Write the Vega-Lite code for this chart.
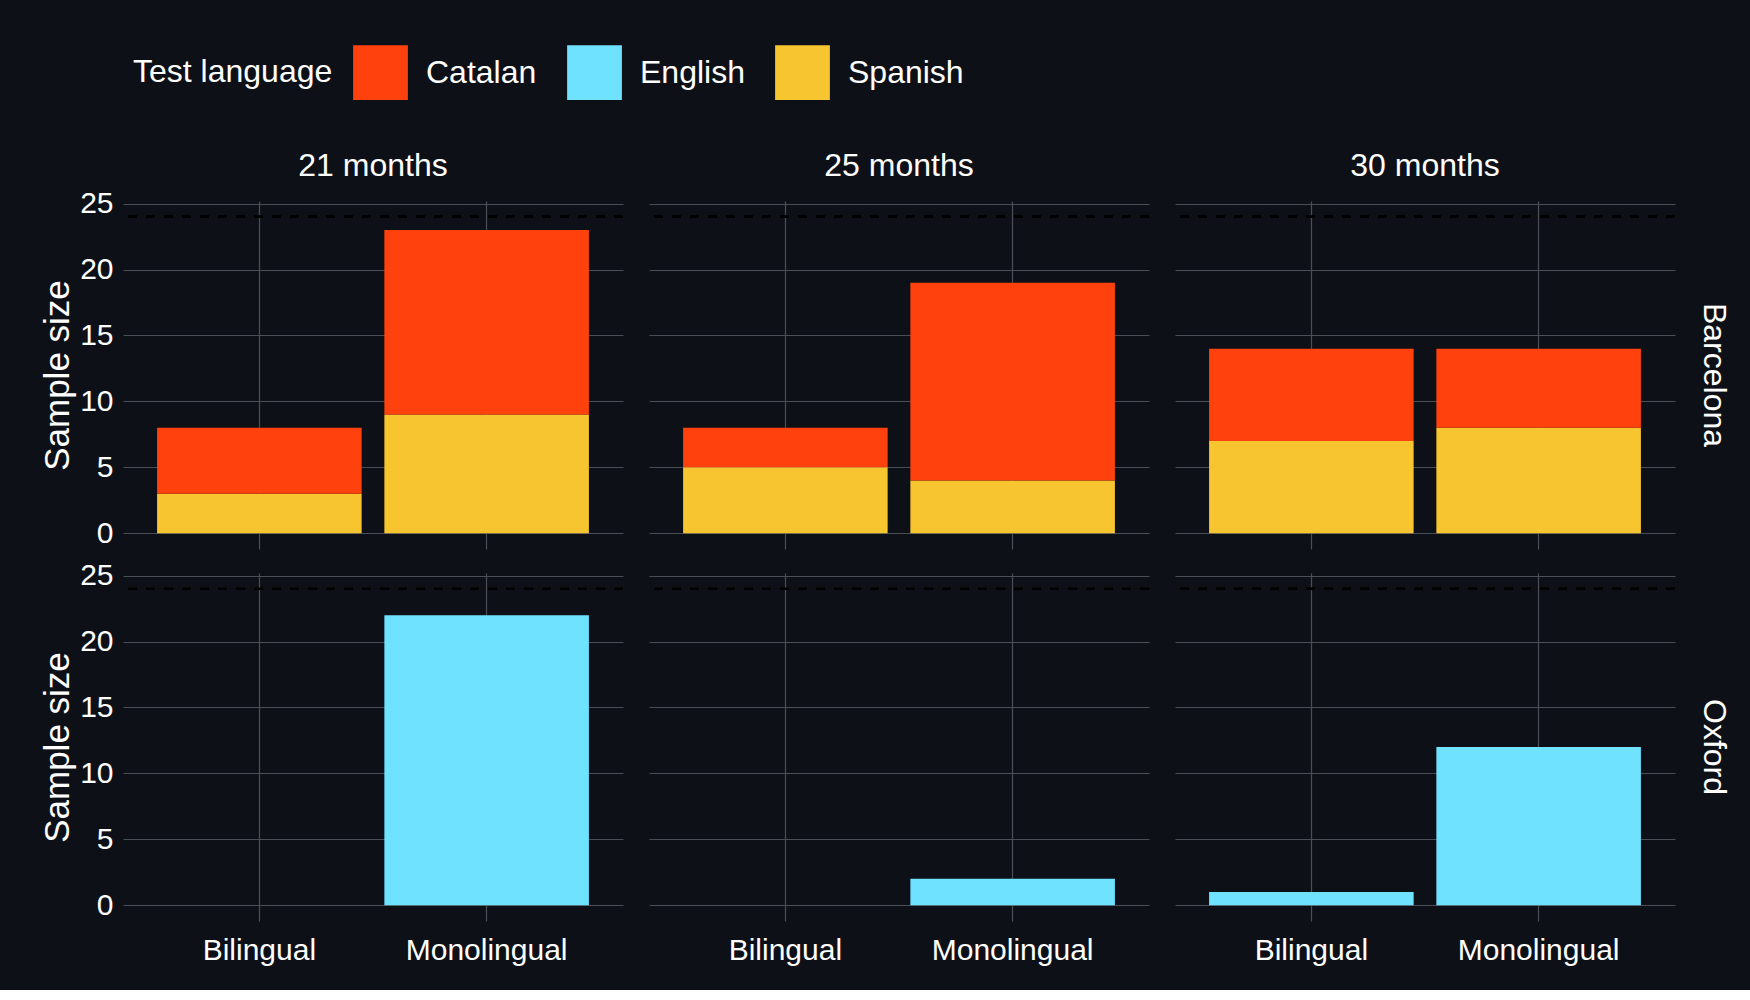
{
  "$schema": "https://vega.github.io/schema/vega-lite/v6.json",
  "background": "#0d1117",
  "padding": {"left": 40, "right": 20, "top": 35, "bottom": 25},
  "data": {"values": [
    {"site": "Barcelona", "age": "21 months", "group": "Bilingual", "lang": "Spanish", "n": 3, "o": 1},
    {"site": "Barcelona", "age": "21 months", "group": "Bilingual", "lang": "Catalan", "n": 5, "o": 2},
    {"site": "Barcelona", "age": "21 months", "group": "Monolingual", "lang": "Spanish", "n": 9, "o": 1},
    {"site": "Barcelona", "age": "21 months", "group": "Monolingual", "lang": "Catalan", "n": 14, "o": 2},
    {"site": "Barcelona", "age": "25 months", "group": "Bilingual", "lang": "Spanish", "n": 5, "o": 1},
    {"site": "Barcelona", "age": "25 months", "group": "Bilingual", "lang": "Catalan", "n": 3, "o": 2},
    {"site": "Barcelona", "age": "25 months", "group": "Monolingual", "lang": "Spanish", "n": 4, "o": 1},
    {"site": "Barcelona", "age": "25 months", "group": "Monolingual", "lang": "Catalan", "n": 15, "o": 2},
    {"site": "Barcelona", "age": "30 months", "group": "Bilingual", "lang": "Spanish", "n": 7, "o": 1},
    {"site": "Barcelona", "age": "30 months", "group": "Bilingual", "lang": "Catalan", "n": 7, "o": 2},
    {"site": "Barcelona", "age": "30 months", "group": "Monolingual", "lang": "Spanish", "n": 8, "o": 1},
    {"site": "Barcelona", "age": "30 months", "group": "Monolingual", "lang": "Catalan", "n": 6, "o": 2},
    {"site": "Oxford", "age": "21 months", "group": "Monolingual", "lang": "English", "n": 22, "o": 1},
    {"site": "Oxford", "age": "25 months", "group": "Monolingual", "lang": "English", "n": 2, "o": 1},
    {"site": "Oxford", "age": "30 months", "group": "Bilingual", "lang": "English", "n": 1, "o": 1},
    {"site": "Oxford", "age": "30 months", "group": "Monolingual", "lang": "English", "n": 12, "o": 1}
  ]},
  "facet": {
    "column": {"field": "age", "type": "nominal", "title": null,
      "header": {"labelFontSize": 32, "labelColor": "#ffffff", "labelFont": "Liberation Sans", "labelPadding": 18}},
    "row": {"field": "site", "type": "nominal", "title": null,
      "header": {"labelOrient": "right", "labelAngle": 90, "labelFontSize": 32, "labelColor": "#ffffff", "labelFont": "Liberation Sans", "labelPadding": 20}}
  },
  "spacing": {"column": 22, "row": 24},
  "spec": {
    "width": 500,
    "height": 348,
    "layer": [
      {
        "mark": {"type": "bar"},
        "encoding": {
          "x": {"field": "group", "type": "nominal", "title": null,
            "scale": {"domain": ["Bilingual", "Monolingual"], "paddingInner": 0.1, "paddingOuter": 0.15},
            "axis": {"labelAngle": 0, "grid": true, "bandPosition": 0.5, "labelPadding": 14}},
          "y": {"field": "n", "type": "quantitative", "stack": "zero", "title": "Sample size",
            "scale": {"domain": [-1.2, 25.2], "nice": false},
            "axis": {"values": [0, 2.5, 5, 7.5, 10, 12.5, 15, 17.5, 20, 22.5, 25],
              "labelExpr": "datum.value % 5 === 0 ? datum.label : ''", "labelOverlap": false}},
          "color": {"field": "lang", "type": "nominal", "title": "Test language",
            "scale": {"domain": ["Catalan", "English", "Spanish"], "range": ["#ff410d", "#6ee2ff", "#f7c530"]}},
          "order": {"field": "o", "sort": "ascending"}
        }
      },
      {
        "mark": {"type": "rule", "color": "#000000", "strokeDash": [9, 9], "strokeWidth": 2.5},
        "encoding": {"y": {"datum": 24}}
      }
    ]
  },
  "config": {
    "font": "Liberation Sans",
    "view": {"stroke": null},
    "axis": {"domain": false, "ticks": false, "gridColor": "#4a4f57", "gridWidth": 1.2,
      "labelColor": "#ffffff", "labelFontSize": 30, "titleColor": "#ffffff", "titleFontSize": 35,
      "titleFontWeight": "normal", "labelPadding": 8},
    "legend": {"orient": "top", "direction": "horizontal", "titleOrient": "left", "titleLimit": 400,
      "titleColor": "#ffffff", "labelColor": "#ffffff", "titleFontSize": 32, "labelFontSize": 32,
      "titleFontWeight": "normal", "symbolType": "square", "symbolSize": 3000, "symbolStrokeWidth": 0,
      "columnPadding": 30, "labelOffset": 18, "titlePadding": 20, "padding": 10, "offset": 40,
      "labelLimit": 300}
  }
}
